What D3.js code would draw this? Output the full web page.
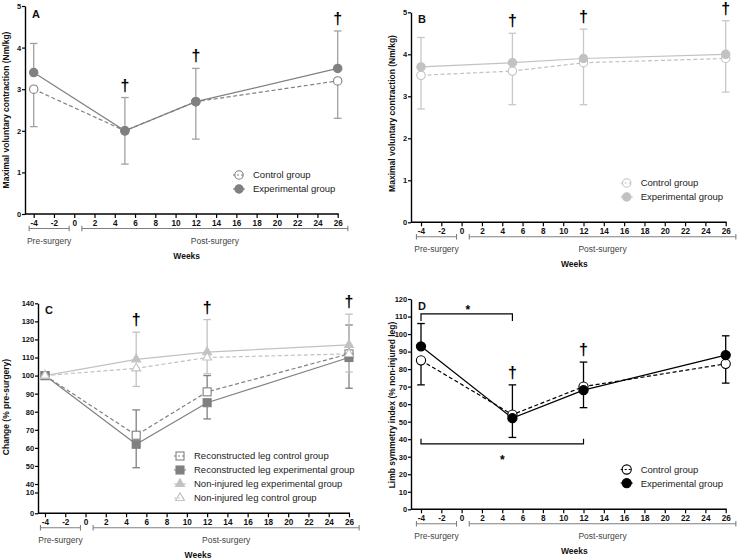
<!DOCTYPE html>
<html><head><meta charset="utf-8">
<script src="https://cdn.jsdelivr.net/npm/d3@7"></script>
<style>
body{margin:0;background:#fff}
svg{display:block}
text{font-family:"Liberation Sans",Arial,sans-serif}
</style>
</head><body>
<svg id="chart" width="738" height="559"></svg>
<script>
// ---------- data ----------
const weeks = [-4, 5, 12, 26];
const xTickValues = [-4, -2, 0, 2, 4, 6, 8, 10, 12, 14, 16, 18, 20, 22, 24, 26];
const periodNames = ["Pre-surgery", "Post-surgery"];
const periodFrom = [-4.45, 0.75];
const periodTo = [-0.5, 27.0];

// Panel A – reconstructed leg MVC
const aYTicks = [0, 1, 2, 3, 4, 5];
const aControl = [3.0, 2.0, 2.7, 3.2];
const aControlLower = [2.1, 1.2, 1.8, 2.3];
const aExperimental = [3.4, 2.0, 2.7, 3.5];
const aExperimentalUpper = [4.1, 2.8, 3.5, 4.4];
const aDaggerWeeks = [5, 12, 26];

// Panel B – non-injured leg MVC
const bYTicks = [0, 1, 2, 3, 4, 5];
const bControl = [3.5, 3.6, 3.8, 3.9];
const bControlLower = [2.7, 2.8, 2.8, 3.1];
const bExperimental = [3.7, 3.8, 3.9, 4.0];
const bExperimentalUpper = [4.4, 4.5, 4.6, 4.8];
const bDaggerWeeks = [5, 12, 26];

// Panel C – change (% pre-surgery)
const cYTicks = [0, 10, 40, 50, 60, 70, 80, 90, 100, 110, 120, 130, 140];
const cRecControl = [100, 67, 91, 112];
const cRecControlUpper = [null, 81, 100, 128];
const cRecExperimental = [100, 62, 85, 110];
const cRecExperimentalLower = [null, 49, 76, 93];
const cNonExperimental = [100, 109, 113, 117];
const cNonExperimentalUpper = [null, 124, 131, 134];
const cNonControl = [100, 104, 110, 112];
const cNonControlLower = [null, 94, 101, 102];
const cDaggerWeeks = [5, 12, 26];

// Panel D – limb symmetry index
const dYTicks = [0, 10, 20, 30, 40, 50, 60, 70, 80, 90, 100, 110, 120];
const dControl = [85, 54, 70, 83];
const dControlLower = [71, 41, 58, 72];
const dExperimental = [93, 52, 68, 88];
const dExperimentalUpper = [106, 71, 84, 99];
const dDaggerWeeks = [5, 12];
const dSigFrom = [-4, -4];
const dSigTo = [5, 12];
const dSigLevel = [111.5, 37.3];
const dSigTip = [107.5, 40.3];
const dSigStarWeek = [0.6, 4];
const dSigStarLevel = [114, 28];

// ---------- drawing ----------
const svg = d3.select("#chart");
const DARK = "#808080", DARK_ERR = "#a0a0a0", LIGHT = "#c2c2c2", LIGHT_ERR = "#c8c8c8";
const FONT = '"Liberation Sans",Arial,sans-serif';
const fmt = d => String(d);

function drawPanel(p) {
  const g = svg.append("g");
  const x = d3.scaleLinear().domain([-4, 26]).range([p.xm4, p.x26]);
  const y = d3.scaleLinear().domain(p.yDomain).range(p.yRange);

  // error bars (under the lines)
  p.series.forEach(s => {
    if (!s.err) return;
    weeks.forEach((w, i) => {
      const e = s.err[i];
      if (e == null) return;
      g.append("line").attr("x1", x(w)).attr("x2", x(w)).attr("y1", y(s.values[i])).attr("y2", y(e))
        .attr("stroke", s.errColor).attr("stroke-width", 1.3);
      g.append("line").attr("x1", x(w) - 3.8).attr("x2", x(w) + 3.8).attr("y1", y(e)).attr("y2", y(e))
        .attr("stroke", s.errColor).attr("stroke-width", 1.3);
    });
  });

  // lines
  const line = d3.line().x((d, i) => x(weeks[i])).y(d => y(d));
  p.series.forEach(s => {
    g.append("path").datum(s.values).attr("d", line).attr("fill", "none")
      .attr("stroke", s.color).attr("stroke-width", 1.2)
      .attr("stroke-dasharray", s.dash ? "4,2.5" : null);
  });
  // markers
  p.series.forEach(s => {
    s.values.forEach((v, i) => drawMarker(g, s, x(weeks[i]), y(v), s.filled ? s.color : "#fff"));
  });

  // axes
  const ya = g.append("g").attr("transform", `translate(${p.left},0)`)
    .call(d3.axisLeft(y).tickValues(p.yTicks).tickFormat(fmt).tickSize(3).tickSizeOuter(0).tickPadding(0.8));
  ya.select(".domain").attr("stroke-width", 1.4);
  ya.selectAll(".tick line").attr("stroke-width", 1.2);
  ya.selectAll(".tick text").attr("font-size", 7.5).attr("font-weight", "bold")
    .attr("font-family", FONT).attr("fill", "#111");

  const y0 = p.yRange[0];
  const xa = g.append("g").attr("transform", `translate(0,${y0})`)
    .call(d3.axisBottom(x).tickValues(xTickValues).tickFormat(fmt).tickSize(4).tickSizeOuter(0).tickPadding(2));
  xa.select(".domain").remove();
  xa.selectAll(".tick line").attr("stroke-width", 1.2);
  xa.selectAll(".tick text").attr("font-size", 8.2).attr("font-weight", "bold")
    .attr("font-family", FONT).attr("fill", "#111");
  g.append("line").attr("x1", p.left).attr("x2", x(26) + 1).attr("y1", y0).attr("y2", y0)
    .attr("stroke", "#000").attr("stroke-width", 1.4);

  // period brackets
  const by = y0 + 14.5;
  periodNames.forEach((name, i) => {
    const x1 = x(periodFrom[i]), x2 = x(periodTo[i]);
    g.append("line").attr("x1", x1).attr("x2", x2).attr("y1", by).attr("y2", by).attr("stroke", DARK).attr("stroke-width", 1.1);
    [x1, x2].forEach(xx => g.append("line").attr("x1", xx).attr("x2", xx).attr("y1", by - 2.8).attr("y2", by + 2.8).attr("stroke", DARK).attr("stroke-width", 1.1));
    g.append("text").attr("x", (x1 + x2) / 2).attr("y", by + 15).attr("text-anchor", "middle")
      .attr("font-size", 8.5).attr("fill", "#444").text(name);
  });
  g.append("text").attr("x", (x(-4) + x(26)) / 2 + 1).attr("y", by + 30).attr("text-anchor", "middle")
    .attr("font-size", 8.5).attr("font-weight", "bold").attr("fill", "#111").text("Weeks");

  // y title
  g.append("text").attr("transform", `translate(${p.titleX},${p.titleY}) rotate(-90)`)
    .attr("text-anchor", "middle").attr("font-size", 8.5).attr("font-weight", "bold").attr("fill", "#111").text(p.title);

  // panel letter
  g.append("text").attr("x", p.left + 7).attr("y", p.letterY).attr("font-size", 11).attr("font-weight", "bold").attr("fill", "#111").text(p.letter);

  // daggers
  p.daggers.forEach(w => {
    const i = weeks.indexOf(w);
    let top = Infinity;
    p.series.forEach(s => {
      top = Math.min(top, y(s.values[i]));
      if (s.err && s.err[i] != null) top = Math.min(top, y(s.err[i]));
    });
    g.append("text").attr("x", x(w)).attr("y", top - 7).attr("text-anchor", "middle")
      .attr("font-size", 16).attr("font-weight", "bold").attr("fill", "#000").text("\u2020");
  });

  // legend
  p.series.forEach((s, k) => {
    const ly = p.legY + k * p.legGap;
    g.append("line").attr("x1", p.legX - 6).attr("x2", p.legX + 6).attr("y1", ly).attr("y2", ly)
      .attr("stroke", s.color).attr("stroke-width", 1.1).attr("stroke-dasharray", s.dash ? "2,2" : null);
    drawMarker(g, s, p.legX, ly, s.filled ? s.color : "none");
    g.append("text").attr("x", p.legX + 14).attr("y", ly + 3.4).attr("font-size", 9.5).attr("fill", "#222").text(s.name);
  });

  if (p.extra) p.extra(g, x, y);
}

function drawMarker(g, s, cx, cy, fill) {
  if (s.marker === "circle") {
    g.append("circle").attr("cx", cx).attr("cy", cy).attr("r", s.r || 4.2)
      .attr("fill", fill).attr("stroke", s.color).attr("stroke-width", 1.1);
  } else if (s.marker === "square") {
    g.append("rect").attr("x", cx - 4).attr("y", cy - 4).attr("width", 8).attr("height", 8)
      .attr("fill", fill).attr("stroke", s.color).attr("stroke-width", 1.1);
  } else {
    g.append("path").attr("d", d3.symbol(d3.symbolTriangle, 34)()).attr("transform", `translate(${cx},${cy})`)
      .attr("fill", fill).attr("stroke", s.color).attr("stroke-width", 1.1);
  }
}

const mvcTitle = "Maximal voluntary contraction (Nm/kg)";

drawPanel({
  letter: "A", letterY: 18, left: 25, xm4: 33.7, x26: 337.7,
  yDomain: [0, 5], yRange: [214, 6], yTicks: aYTicks,
  title: mvcTitle, titleX: 9, titleY: 110,
  legX: 239, legY: 175, legGap: 14,
  daggers: aDaggerWeeks,
  series: [
    { name: "Control group", values: aControl, err: aControlLower, color: DARK, errColor: DARK_ERR, dash: true, filled: false, marker: "circle" },
    { name: "Experimental group", values: aExperimental, err: aExperimentalUpper, color: DARK, errColor: DARK_ERR, dash: false, filled: true, marker: "circle" }
  ]
});

drawPanel({
  letter: "B", letterY: 23, left: 411, xm4: 421, x26: 725.7,
  yDomain: [0, 5], yRange: [222.3, 12.3], yTicks: bYTicks,
  title: mvcTitle, titleX: 395, titleY: 113.5,
  legX: 626.7, legY: 183, legGap: 14,
  daggers: bDaggerWeeks,
  series: [
    { name: "Control group", values: bControl, err: bControlLower, color: LIGHT, errColor: LIGHT_ERR, dash: true, filled: false, marker: "circle" },
    { name: "Experimental group", values: bExperimental, err: bExperimentalUpper, color: LIGHT, errColor: LIGHT_ERR, dash: false, filled: true, marker: "circle" }
  ]
});

drawPanel({
  letter: "C", letterY: 314, left: 38, xm4: 45, x26: 349,
  yDomain: [0, 10, 40, 140], yRange: [513.3, 492.5, 484, 303.3], yTicks: cYTicks,
  title: "Change (% pre-surgery)", titleX: 9, titleY: 407,
  legX: 180, legY: 456, legGap: 14,
  daggers: cDaggerWeeks,
  series: [
    { name: "Reconstructed leg control group", values: cRecControl, err: cRecControlUpper, color: DARK, errColor: DARK, dash: true, filled: false, marker: "square" },
    { name: "Reconstructed leg experimental group", values: cRecExperimental, err: cRecExperimentalLower, color: DARK, errColor: DARK, dash: false, filled: true, marker: "square" },
    { name: "Non-injured leg experimental group", values: cNonExperimental, err: cNonExperimentalUpper, color: LIGHT, errColor: LIGHT, dash: false, filled: true, marker: "triangle" },
    { name: "Non-injured leg control group", values: cNonControl, err: cNonControlLower, color: LIGHT, errColor: LIGHT, dash: true, filled: false, marker: "triangle" }
  ]
});

drawPanel({
  letter: "D", letterY: 310, left: 411, xm4: 421, x26: 725.7,
  yDomain: [0, 120], yRange: [509.3, 299], yTicks: dYTicks,
  title: "Limb symmetry index (% non-injured leg)", titleX: 394.5, titleY: 405,
  legX: 626.7, legY: 469.5, legGap: 13.6,
  daggers: dDaggerWeeks,
  series: [
    { name: "Control group", values: dControl, err: dControlLower, color: "#000", errColor: "#000", dash: true, filled: false, marker: "circle", r: 4.6 },
    { name: "Experimental group", values: dExperimental, err: dExperimentalUpper, color: "#000", errColor: "#000", dash: false, filled: true, marker: "circle", r: 4.6 }
  ],
  extra: (g, x, y) => {
    dSigLevel.forEach((lv, i) => {
      const x1 = x(dSigFrom[i]), x2 = x(dSigTo[i]);
      g.append("path").attr("d", `M${x1},${y(dSigTip[i])}V${y(lv)}H${x2}V${y(dSigTip[i])}`)
        .attr("fill", "none").attr("stroke", "#000").attr("stroke-width", 1.2);
      g.append("text").attr("x", x(dSigStarWeek[i])).attr("y", y(dSigStarLevel[i]) + 4).attr("text-anchor", "middle")
        .attr("font-size", 12).attr("font-weight", "bold").attr("fill", "#000").text("*");
    });
  }
});
</script>
</body></html>
